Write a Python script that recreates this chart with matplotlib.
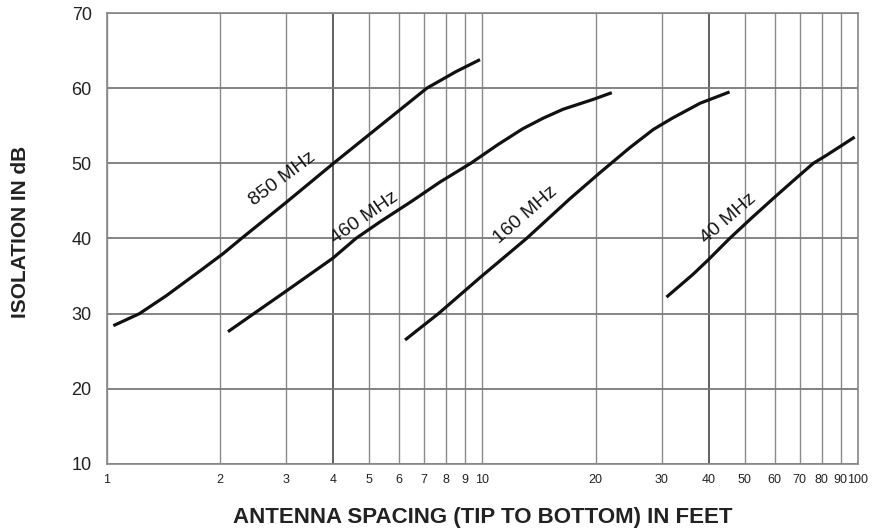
import matplotlib
matplotlib.use('Agg')
import matplotlib.pyplot as plt

# Isolation vs antenna spacing
x_850 = [1.04, 1.22, 1.44, 1.77, 2.04, 2.28, 3.0, 4.01, 5.4, 7.11, 8.5, 9.85]
y_850 = [28.4, 30.0, 32.4, 35.7, 38.0, 40.0, 44.8, 50.0, 55.2, 60.0, 62.2, 63.8]

x_460 = [2.10, 2.46, 3.0, 4.0, 4.6, 5.33, 6.5, 7.7, 9.3, 11.0, 12.8, 14.5, 16.4, 19.7, 22.1]
y_460 = [27.6, 30.0, 33.0, 37.4, 40.0, 42.2, 45.0, 47.5, 50.0, 52.5, 54.6, 56.0, 57.2, 58.5, 59.4]

x_160 = [6.22, 7.63, 9.85, 13.1, 17.1, 20.6, 24.7, 28.5, 32.0, 38.0, 45.5]
y_160 = [26.5, 30.0, 34.8, 40.0, 45.3, 48.8, 52.1, 54.5, 56.0, 58.0, 59.5]

x_40 = [30.9, 36.3, 40.0, 45.5, 52.0, 60.0, 68.0, 76.0, 82.0, 90.0, 98.0]
y_40 = [32.2, 35.2, 37.2, 40.0, 42.7, 45.5, 47.9, 50.0, 51.0, 52.3, 53.5]

curve_labels = ['850 MHz', '460 MHz', '160 MHz', '40 MHz']
label_x = [2.93, 4.84, 13.0, 45.2]
label_y = [47.9, 42.7, 43.1, 42.6]
label_rot = [37, 35, 41, 41]

x_ticks = [1, 2, 3, 4, 5, 6, 7, 8, 9, 10, 20, 30, 40, 50, 60, 70, 80, 90, 100]
y_ticks = [10, 20, 30, 40, 50, 60, 70]

plt.rcParams['font.family'] = ['Liberation Sans', 'DejaVu Sans']

fig = plt.figure(figsize=(8.79, 5.31), dpi=100)
ax = fig.add_axes([0.1217, 0.1262, 0.8544, 0.8493])

for xs, ys in [(x_850, y_850), (x_460, y_460), (x_160, y_160), (x_40, y_40)]:
    ax.plot(xs, ys, color='#111111', linewidth=2.3, solid_capstyle='butt',
            solid_joinstyle='round', zorder=3)

for text, lx, ly, rot in zip(curve_labels, label_x, label_y, label_rot):
    ax.text(lx, ly, text, rotation=rot, rotation_mode='anchor', ha='center',
            va='center', fontsize=14, color='#161616', zorder=4)

ax.set_xscale('log')
ax.set_xlim(1, 100)
ax.set_ylim(10, 70)
ax.set_xticks(x_ticks)
ax.set_xticklabels([str(t) for t in x_ticks], fontsize=9)
ax.xaxis.set_minor_locator(matplotlib.ticker.NullLocator())
ax.set_yticks(y_ticks)
ax.set_yticklabels([str(t) for t in y_ticks], fontsize=13)
ax.tick_params(axis='x', length=0, pad=7, colors='#222222')
ax.tick_params(axis='y', length=0, pad=11, colors='#222222')

ax.grid(True, which='major', color='#8a8a8a', linewidth=1.0)
for t, gl in zip(x_ticks, ax.get_xgridlines()):
    if t in (4, 40):
        gl.set_color('#444444')
        gl.set_linewidth(1.2)
for gl in ax.get_ygridlines():
    gl.set_color('#7a7a7a')
    gl.set_linewidth(1.3)
ax.set_axisbelow(True)

for side in ['left', 'right', 'top', 'bottom']:
    ax.spines[side].set_color('#888888')
    ax.spines[side].set_linewidth(1.2)

ax.set_xlabel('ANTENNA SPACING (TIP TO BOTTOM) IN FEET', fontsize=16,
              fontweight='bold', color='#222222', labelpad=15)
ax.set_ylabel('ISOLATION IN dB', fontsize=15, fontweight='bold',
              color='#222222')
ax.yaxis.set_label_coords(-0.102, 0.515)

fig.savefig('out.png', dpi=100, facecolor='white')
